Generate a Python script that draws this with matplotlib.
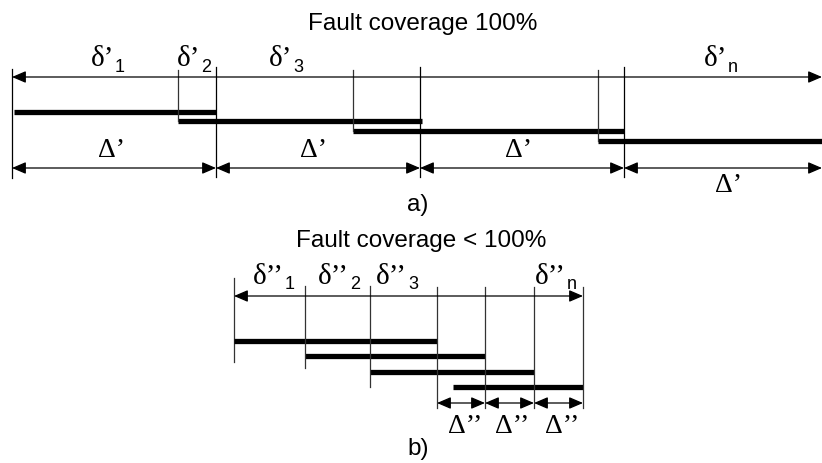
import matplotlib.pyplot as plt

# --- a) cobertura 100% ---
a_bar_start = [14, 178, 353, 598]
a_bar_end = [216, 422, 624, 822]
a_bar_y = [112, 121, 131, 141]
a_delta_bounds = [12, 216, 420, 624, 822]
a_sub = ["1", "2", "3", "n"]
a_sub_x = [114, 200, 292, 727]

# --- b) cobertura < 100% ---
b_bar_start = [234, 305, 370, 453]
b_bar_end = [437, 485, 534, 583]
b_bar_y = [341, 356, 372, 387]
b_delta_bounds = [437, 485, 534, 583]
b_sub = ["1", "2", "3", "n"]
b_sub_x = [284, 349, 407, 566]

fig = plt.figure(figsize=(8.22, 4.63), dpi=100)
ax = fig.add_axes([0, 0, 1, 1])
ax.set_xlim(0, 822)
ax.set_ylim(463, 0)
ax.axis("off")

SANS = "Liberation Sans"
SERIF = "Liberation Serif"


def dim(x0, x1, y):
    ax.annotate("", xy=(x0, y), xytext=(x1, y),
                arrowprops=dict(arrowstyle="<|-|>,head_length=0.7,head_width=0.3",
                                color="black", lw=0.9,
                                mutation_scale=12, shrinkA=0, shrinkB=0))


def vline(x, y0, y1, c="#333333"):
    ax.plot([x, x], [y0, y1], color=c, lw=0.9)


def greek(x, y, sym, prime, sub, drop=6, size=21):
    # simbolo con prima (serif) y subindice (sans)
    ax.text(x, y, sym + prime, family=SERIF, fontsize=size,
            ha="right", va="baseline")
    ax.text(x + 1, y + drop, sub, family=SANS, fontsize=13,
            ha="left", va="baseline")


# ---------- a) ----------
ax.text(423, 30, "Fault coverage 100%", family=SANS, fontsize=17.5,
        ha="center", va="baseline")
dim(a_delta_bounds[0], a_delta_bounds[-1], 77)
vline(a_delta_bounds[0], 69, 178, "black")
for s, e, y in zip(a_bar_start, a_bar_end, a_bar_y):
    ax.plot([s, e], [y, y], color="black", lw=3.8, solid_capstyle="butt")
for s, y in zip(a_bar_start[1:], a_bar_y[1:]):
    vline(s, 70, y)
for x in a_delta_bounds[1:-1]:
    vline(x, 67, 177, "black")
for i in range(len(a_delta_bounds) - 1):
    dim(a_delta_bounds[i], a_delta_bounds[i + 1], 168)
for x in [111, 313, 518]:
    ax.text(x, 157, "Δ’", family=SERIF, fontsize=20, ha="center", va="baseline")
ax.text(728, 192, "Δ’", family=SERIF, fontsize=20, ha="center", va="baseline")
for x, s in zip(a_sub_x, a_sub):
    greek(x, 66, "δ", "’", s)
ax.text(418, 211, "a)", family=SANS, fontsize=17.5, ha="center", va="baseline")

# ---------- b) ----------
ax.text(421, 247, "Fault coverage < 100%", family=SANS, fontsize=17.5,
        ha="center", va="baseline")
dim(b_bar_start[0], b_delta_bounds[-1], 296)
vline(b_bar_start[0], 278, 362, "#333333")
for s, e, y in zip(b_bar_start, b_bar_end, b_bar_y):
    ax.plot([s, e], [y, y], color="black", lw=3.8, solid_capstyle="butt")
for s, y in zip(b_bar_start[1:3], [368, 387]):
    vline(s, 286, y)
for x in b_delta_bounds:
    vline(x, 287, 408)
for i in range(len(b_delta_bounds) - 1):
    dim(b_delta_bounds[i], b_delta_bounds[i + 1], 403)
for x in [465, 512, 562]:
    ax.text(x, 433, "Δ’’", family=SERIF, fontsize=20, ha="center", va="baseline")
for x, s in zip(b_sub_x, b_sub):
    greek(x, 284, "δ", "’’", s, drop=5)
ax.text(418, 455, "b)", family=SANS, fontsize=17.5, ha="center", va="baseline")

fig.savefig("out.png", dpi=100)
